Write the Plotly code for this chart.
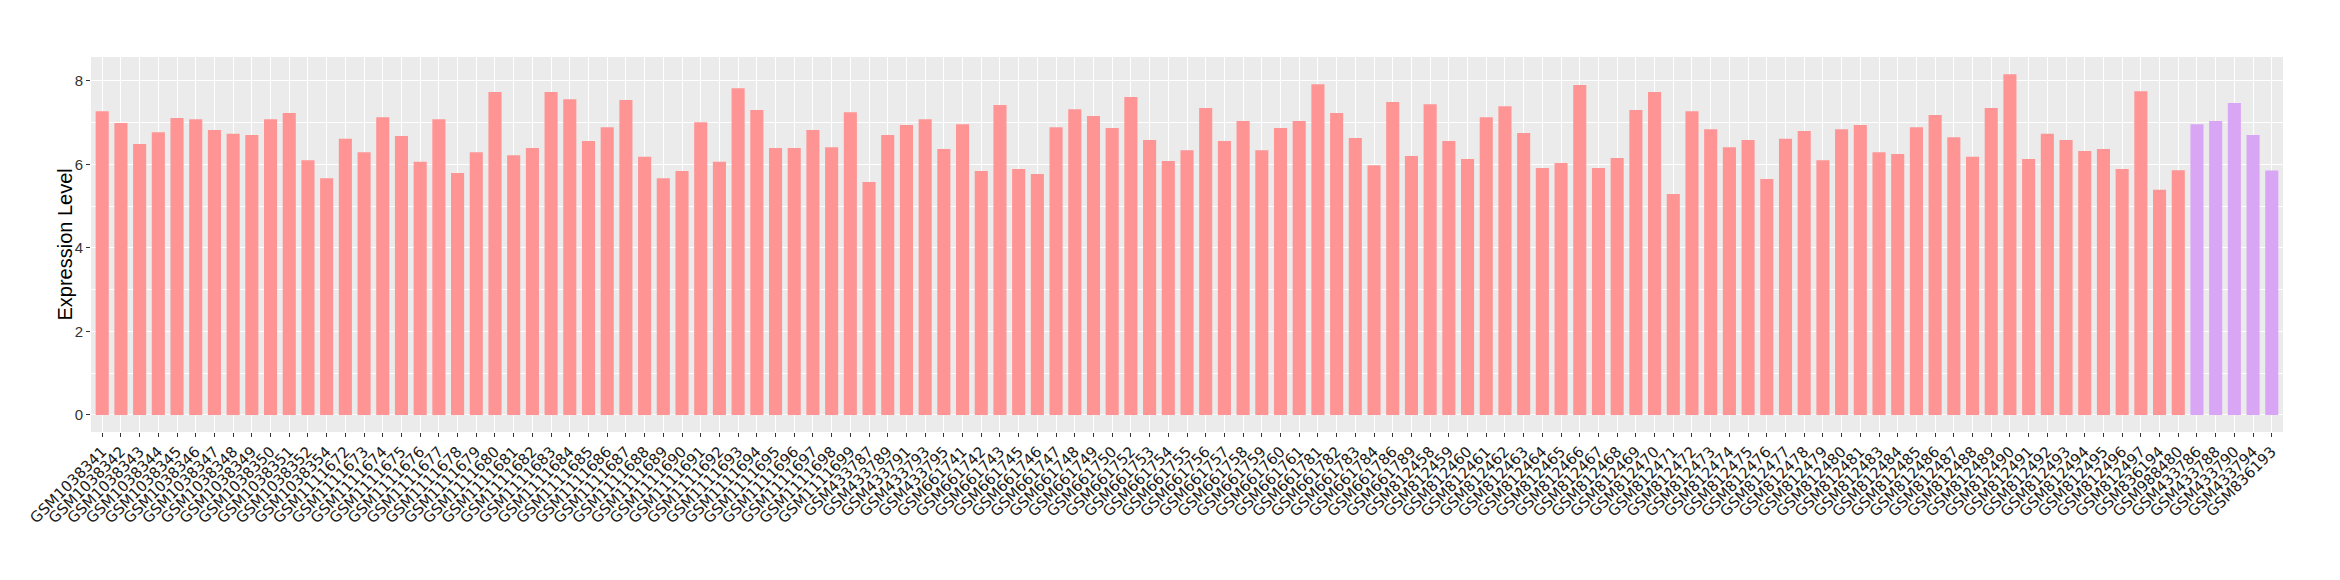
import plotly.graph_objects as go

samples = (
    ["GSM10383%d" % n for n in [41, 42, 43, 44, 45, 46, 47, 48, 49, 50, 51, 52, 54]]
    + ["GSM1111%d" % n for n in range(672, 700)]
    + ["GSM433%d" % n for n in [787, 789, 791, 793, 795]]
    + ["GSM661%d" % n for n in [741, 742, 743, 745, 746, 747, 748, 749, 750, 752, 753, 754,
                                755, 756, 757, 758, 759, 760, 761, 781, 782, 783, 784, 786, 789]]
    + ["GSM812%d" % n for n in list(range(458, 482)) + list(range(483, 498))]
    + ["GSM836194", "GSM988480"]
    + ["GSM433786", "GSM433788", "GSM433790", "GSM433794", "GSM836193"]
)

expression = [
    7.27, 6.99, 6.49, 6.77, 7.11, 7.08, 6.82, 6.73, 6.70, 7.08, 7.23, 6.10, 5.67,
    6.61, 6.29, 7.13, 6.68, 6.06, 7.08, 5.79, 6.29, 7.73, 6.22, 6.39, 7.73, 7.56,
    6.56, 6.89, 7.54, 6.18, 5.67, 5.84, 7.01, 6.06, 7.82, 7.30, 6.39, 6.39, 6.82,
    6.41, 7.25,
    5.58, 6.70, 6.94, 7.08, 6.37,
    6.96, 5.84, 7.42, 5.89, 5.77, 6.89, 7.32, 7.16, 6.87, 7.61, 6.58, 6.08, 6.34,
    7.35, 6.56, 7.04, 6.34, 6.87, 7.04, 7.92, 7.23, 6.63, 5.98, 7.49, 6.20,
    7.44, 6.56, 6.13, 7.13, 7.39, 6.75, 5.91, 6.03, 7.90, 5.91, 6.15, 7.30, 7.73,
    5.29, 7.27, 6.84, 6.41, 6.58, 5.65, 6.61, 6.80, 6.10, 6.84, 6.94, 6.29, 6.25,
    6.89, 7.18, 6.65, 6.18, 7.35, 8.16, 6.13, 6.73, 6.58, 6.32, 6.37, 5.89, 7.75,
    5.39, 5.86,
    6.96, 7.04, 7.47, 6.70, 5.85,
]

group = ["A"] * 112 + ["B"] * 5
group_colors = {"A": "#FF9494", "B": "#D8A6F5"}

fig = go.Figure()
fig.add_trace(go.Bar(
    x=samples,
    y=expression,
    marker=dict(color=[group_colors[g] for g in group], line=dict(width=0)),
    width=0.7,
    showlegend=False,
))

ML, MR = 83, 65
plot_w = 2340 - ML - MR

fig.update_layout(
    width=2340,
    height=580,
    margin=dict(l=ML, r=MR, t=49, b=156, autoexpand=False),
    paper_bgcolor="white",
    plot_bgcolor="#EBEBEB",
    font=dict(family="Liberation Sans, Arial, sans-serif", color="#333333"),
    bargap=0.3,
)

fig.add_annotation(
    text="Expression Level",
    xref="paper", yref="paper",
    x=(56 - ML) / plot_w, y=0.5,
    xanchor="center", yanchor="middle",
    textangle=-90,
    showarrow=False,
    font=dict(family="Liberation Sans, Arial, sans-serif", size=20, color="black"),
)

fig.update_xaxes(
    type="category",
    categoryorder="array",
    categoryarray=samples,
    range=[-0.6, len(samples) - 0.4],
    tickangle=-45,
    tickfont=dict(family="DejaVu Sans, sans-serif", size=15, color="#1a1a1a"),
    showgrid=True,
    gridcolor="white",
    gridwidth=1.4,
    ticks="outside",
    ticklen=4,
    tickcolor="#333333",
    tickwidth=1,
    zeroline=False,
    showline=False,
    automargin=False,
)

fig.update_yaxes(
    range=[-0.408, 8.57],
    tickvals=[0, 2, 4, 6, 8],
    tickfont=dict(family="Liberation Sans, Arial, sans-serif", size=15, color="#333333"),
    showgrid=True,
    gridcolor="white",
    gridwidth=1.4,
    minor=dict(tickvals=[1, 3, 5, 7], showgrid=True, gridcolor="white", gridwidth=0.7, ticks=""),
    ticks="outside",
    ticklen=4,
    tickcolor="#333333",
    tickwidth=1,
    zeroline=False,
    showline=False,
    automargin=False,
)

fig.write_html("out.html")
